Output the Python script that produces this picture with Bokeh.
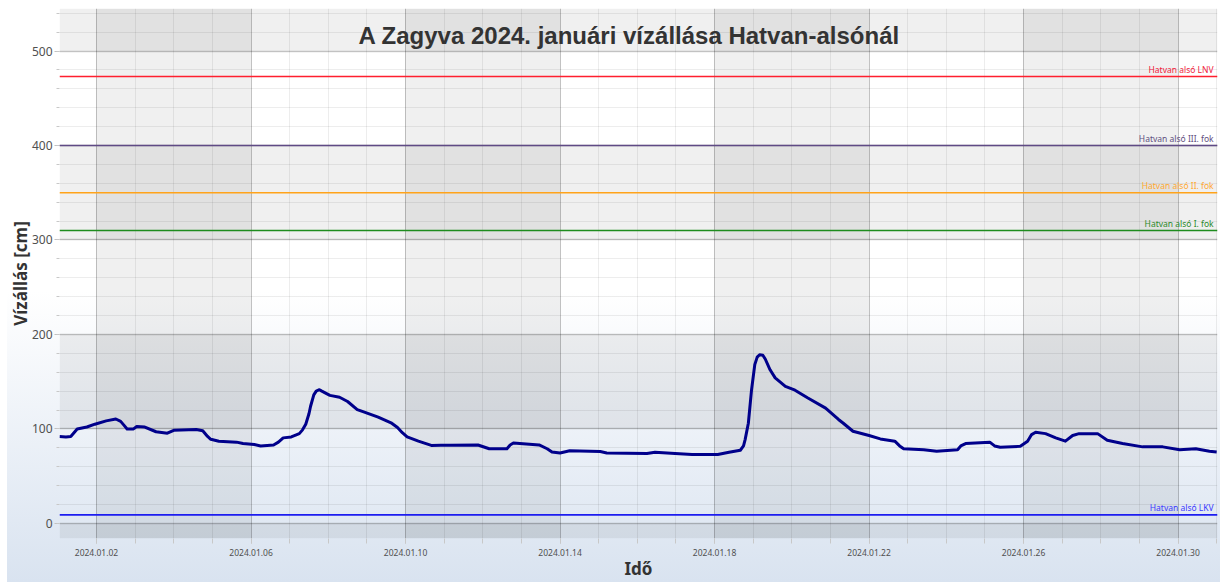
import pandas as pd
from bokeh.plotting import figure
from bokeh.models import (FixedTicker, DatetimeTickFormatter, BoxAnnotation, Label,
                          ColumnDataSource, Range1d, Span)
from bokeh.embed import file_html
from bokeh.resources import INLINE
from bokeh.core.properties import value

# ---------------- data ----------------
times = [
    "01-01 01:00", "01-01 05:00", "01-01 08:00", "01-01 10:00", "01-01 12:00", "01-01 18:00",
    "01-01 23:00", "01-02 06:00", "01-02 12:00", "01-02 15:00", "01-02 17:00", "01-02 19:00",
    "01-02 23:00", "01-03 01:00", "01-03 06:00", "01-03 13:00", "01-03 20:00", "01-04 00:00",
    "01-04 14:00", "01-04 18:00", "01-04 21:00", "01-04 23:00", "01-05 04:00", "01-05 15:00",
    "01-05 19:00", "01-06 02:00", "01-06 06:00", "01-06 14:00", "01-06 17:00", "01-06 20:00",
    "01-07 01:00", "01-07 06:00", "01-07 08:00", "01-07 10:00", "01-07 12:00", "01-07 13:00",
    "01-07 15:00", "01-07 16:30", "01-07 18:30", "01-07 20:00", "01-08 01:00", "01-08 07:00",
    "01-08 12:00", "01-08 18:00", "01-08 22:00", "01-09 07:00", "01-09 15:00", "01-09 19:00",
    "01-09 22:00", "01-10 01:00", "01-10 08:00", "01-10 16:00", "01-10 22:00", "01-11 04:00",
    "01-11 21:00", "01-12 04:00", "01-12 15:00", "01-12 17:00", "01-12 19:00", "01-13 11:00",
    "01-13 16:00", "01-13 19:00", "01-14 00:00", "01-14 06:00", "01-15 01:00", "01-15 05:00",
    "01-16 06:00", "01-16 11:00", "01-16 23:30", "01-17 10:00", "01-18 02:00", "01-18 09:00",
    "01-18 16:00", "01-18 18:00", "01-18 19:00", "01-18 21:00", "01-18 23:00", "01-19 01:00",
    "01-19 02:30", "01-19 04:00", "01-19 06:00", "01-19 07:30", "01-19 10:30", "01-19 13:40",
    "01-19 20:00", "01-20 02:00", "01-20 10:00", "01-20 21:00", "01-21 05:00", "01-21 08:00",
    "01-21 14:00", "01-22 00:00", "01-22 07:00", "01-22 16:00", "01-22 19:00", "01-22 21:30",
    "01-23 10:00", "01-23 18:00", "01-24 07:00", "01-24 09:00", "01-24 12:00", "01-25 03:00",
    "01-25 06:00", "01-25 09:30", "01-25 22:00", "01-26 02:30", "01-26 05:00", "01-26 07:30",
    "01-26 13:40", "01-26 20:00", "01-27 02:00", "01-27 06:30", "01-27 10:30", "01-27 22:00",
    "01-28 04:00", "01-28 13:30", "01-29 02:00", "01-29 14:30", "01-30 01:00", "01-30 11:00",
    "01-30 19:30", "01-31 00:00",
]
levels = [
    92, 91.5, 92, 96, 100, 102,
    105, 108.5, 110.5, 108, 104, 100,
    100, 102.5, 102, 97, 95.5, 98.5,
    99.3, 98, 92, 89, 87, 86,
    84.5, 83.5, 82, 83, 86, 90.5,
    91.5, 95, 99, 105, 116, 124,
    136, 140, 141.5, 140, 135.5, 133.5,
    129, 120.5, 118, 112.5, 106.5, 101.5,
    96, 91.5, 87, 82.5, 82.7, 82.7,
    83, 79, 79, 83, 85, 83,
    79, 75.5, 74.5, 76.8, 76, 74.6,
    74, 75.3, 74, 73, 73, 75.3,
    77.4, 82, 88.7, 106, 141.5, 168,
    176, 178.5, 178, 174, 162.6, 154,
    145, 141, 132.7, 122, 110, 106,
    97.5, 93, 89.4, 87, 82, 79,
    78, 76.3, 78, 82, 84.5, 86,
    82, 80.6, 81.6, 87, 94, 96.4,
    95, 90.5, 87, 93, 95, 95,
    88, 84.5, 81, 81, 78, 79,
    76.3, 75.5,
]

threshold_names = ["Hatvan alsó LNV", "Hatvan alsó III. fok", "Hatvan alsó II. fok",
                   "Hatvan alsó I. fok", "Hatvan alsó LKV"]
threshold_values = [473, 400, 350, 310, 9]
threshold_colors = ["#ff1f2e", "#5f4a85", "#ffa31a", "#1e8c1e", "#1c1cf0"]
threshold_text_colors = ["#f0203a", "#5f5080", "#ffa830", "#2a8a2a", "#3a3aff"]

x_tick_dates = ["2024-01-02", "2024-01-06", "2024-01-10", "2024-01-14",
                "2024-01-18", "2024-01-22", "2024-01-26", "2024-01-30"]
y_ticks = [0, 100, 200, 300, 400, 500]

title_text = "A Zagyva 2024. januári vízállása Hatvan-alsónál"
x_label = "Idő"
y_label = "Vízállás [cm]"


def ms(t):
    return pd.Timestamp(t).value / 1e6


x_start = pd.Timestamp("2024-01-01 01:00")
x_end = pd.Timestamp("2024-01-31 00:30")
y_start, y_end = -16, 545

dt = pd.to_datetime(["2024-" + t for t in times])
src = ColumnDataSource(dict(t=dt, v=levels))

p = figure(width=1220, height=582, x_axis_type="datetime",
           x_range=Range1d(x_start, x_end), y_range=Range1d(y_start, y_end),
           output_backend="svg", toolbar_location=None,
           min_border_left=59, min_border_right=3, min_border_top=8, min_border_bottom=44)

p.background_fill_color = None
p.border_fill_color = None
p.outline_line_color = None
p.styles = {"background-image":
            "linear-gradient(to right, #ffffff 7px, rgba(255,255,255,0) 7px), "
            "linear-gradient(to bottom, #ffffff 0%, #ffffff 50%, #d9e3f0 100%)"}

# tickers
x_major = [ms(d) for d in x_tick_dates]
x_minor = [ms(d) for d in pd.date_range("2023-12-31", "2024-02-01", freq="D")]
xt = FixedTicker(ticks=x_major, minor_ticks=x_minor)
yt = FixedTicker(ticks=y_ticks, minor_ticks=list(range(-20, 561, 20)))
p.xaxis.ticker = xt
p.xgrid.ticker = xt
p.yaxis.ticker = yt
p.ygrid.ticker = yt
fmt = "%Y.%m.%d"
p.xaxis.formatter = DatetimeTickFormatter(days=fmt, months=fmt, years=fmt, hours=fmt,
                                          minutes=fmt, hourmin=fmt, seconds=fmt,
                                          minsec=fmt, milliseconds=fmt, microseconds=fmt)

# grids
for g in (p.xgrid, p.ygrid):
    g.grid_line_color = "black"
    g.grid_line_alpha = 0.18
    g.grid_line_width = 1
    g.minor_grid_line_color = "black"
    g.minor_grid_line_alpha = 0.07
p.ygrid.grid_line_width = 1.5

# alternating bands
for i in range(0, len(x_major) - 1, 2):
    p.add_layout(BoxAnnotation(left=x_major[i], right=x_major[i + 1], fill_color="black",
                               fill_alpha=0.06, line_color=None, level="underlay"))
p.add_layout(BoxAnnotation(top=y_ticks[0], fill_color="black", fill_alpha=0.06,
                           line_color=None, level="underlay"))
for i in range(1, len(y_ticks) - 1, 2):
    p.add_layout(BoxAnnotation(bottom=y_ticks[i], top=y_ticks[i + 1], fill_color="black",
                               fill_alpha=0.06, line_color=None, level="underlay"))
p.add_layout(BoxAnnotation(bottom=y_ticks[-1], fill_color="black", fill_alpha=0.06,
                           line_color=None, level="underlay"))

# axes
for ax in (p.xaxis, p.yaxis):
    ax.axis_line_color = None
    ax.major_tick_line_color = "#c0c0c0"
    ax.minor_tick_line_color = "#c8c8c8"
    ax.major_tick_in = 0
    ax.minor_tick_in = 0
    ax.major_tick_out = 5
    ax.major_label_text_font = "Noto Sans"
    ax.major_label_text_color = "#505050"
    ax.axis_label_text_font = "Noto Sans"
    ax.axis_label_text_font_style = "bold"
    ax.axis_label_text_font_size = "17px"
    ax.axis_label_text_color = "#333333"
p.xaxis.minor_tick_out = 5
p.yaxis.minor_tick_out = 3
p.xaxis.major_label_text_font_size = "8.5px"
p.yaxis.major_label_text_font_size = "12px"
p.xaxis.major_label_standoff = 5
p.yaxis.major_label_standoff = 2
p.xaxis.axis_label = x_label
p.yaxis.axis_label = y_label
p.xaxis.axis_label_standoff = -2
p.yaxis.axis_label_standoff = -3

# threshold lines
for v, c in zip(threshold_values, threshold_colors):
    p.add_layout(Span(location=v, dimension="width", line_color=c, line_width=1.6))

label_x = ms(x_end) - 4 * 3600 * 1000 * 0.6
tsrc = ColumnDataSource(dict(x=[label_x] * len(threshold_values), y=threshold_values,
                             t=threshold_names, c=threshold_text_colors))
p.text(x="x", y="y", text="t", text_color="c", source=tsrc, text_align="right",
       text_baseline="alphabetic", y_offset=-7, text_font=value("Noto Sans"),
       text_font_size="8.5px")

# data line
p.line(x="t", y="v", source=src, line_color="#00008b", line_width=3, line_join="round")

# title inside plot
p.add_layout(Label(x=ms("2024-01-15 19:00"), y=516, text=title_text, text_align="center",
                   text_baseline="middle", text_font="Liberation Sans", text_font_style="bold",
                   text_font_size="24px", text_color="#333333"))

open("out.html", "w").write(file_html(p, INLINE, title="Zagyva"))
